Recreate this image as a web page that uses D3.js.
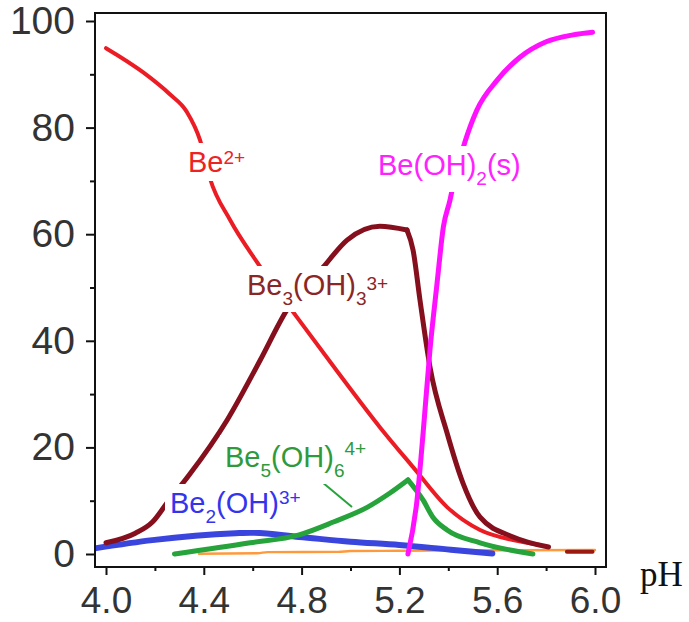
<!DOCTYPE html>
<html>
<head>
<meta charset="utf-8">
<script src="https://cdn.jsdelivr.net/npm/d3@7/dist/d3.min.js"></script>
<style>
  html, body { margin: 0; padding: 0; background: #fff; }
  svg { display: block; }
</style>
</head>
<body>
<svg id="chart" width="689" height="622"></svg>
<script>
// ---------- data (pH, % of total Be) ----------
const xTicks = [4.0, 4.4, 4.8, 5.2, 5.6, 6.0];
const xMinorTicks = [4.2, 4.6, 5.0, 5.4, 5.8];
const yTicks = [0, 20, 40, 60, 80, 100];
const yMinorTicks = [10, 30, 50, 70, 90];

const be2plus = [[4.0,94.9],[4.151,90.4],[4.26,86.3],[4.33,83.0],[4.385,77.6],[4.425,70.5],[4.507,62.7],[4.617,54.8],[4.78,44.5],[4.95,34.0],[5.12,23.8],[5.256,16.3],[5.395,8.8],[5.53,4.5],[5.665,2.6],[5.775,1.7]];
const be3Rise = [[4.0,2.1],[4.12,3.9],[4.19,6.0],[4.25,9.6],[4.34,14.8],[4.495,25.1],[4.63,36.3],[4.74,45.8],[4.888,53.8],[4.986,58.9],[5.12,61.5],[5.231,60.8]];
const be3Fall = [[5.231,60.8],[5.256,57.0],[5.284,47.7],[5.325,35.1],[5.395,22.7],[5.46,13.3],[5.53,6.9],[5.665,3.2],[5.81,1.3]];
const be3Tail = [[5.885,0.4],[5.99,0.4]];
const beOH2s = [[5.235,0.0],[5.272,10.1],[5.297,22.7],[5.325,38.3],[5.354,50.8],[5.38,61.4],[5.407,66.4],[5.42,69.2],[5.468,77.3],[5.517,83.3],[5.6,88.9],[5.693,93.2],[5.80,96.1],[5.91,97.4],[5.99,97.9]];
const be5Rise = [[4.28,0.0],[4.59,2.1],[4.79,3.6],[4.93,6.0],[5.07,8.8],[5.16,11.4],[5.235,13.9]];
const be5Fall = [[5.235,13.9],[5.297,10.1],[5.337,6.9],[5.395,4.5],[5.53,2.1],[5.746,0.0]];
const be2OH = [[3.96,1.1],[4.19,2.6],[4.53,3.9],[4.59,4.0],[4.79,3.2],[5.0,2.3],[5.2,1.7],[5.41,0.8],[5.58,0.1]];
const minor = [[4.38,0.05],[4.62,0.15],[4.66,0.35],[4.95,0.4],[5.0,0.55],[5.2,0.6],[5.6,0.7],[6.0,0.75]];

// ---------- layout ----------
const svg = d3.select("#chart");
const SANS = "'Liberation Sans', Arial, sans-serif";
const SERIF = "'Liberation Serif', 'Times New Roman', serif";
const box = {left: 95, top: 13, right: 606, bottom: 567};
const x = d3.scaleLinear().domain([4, 6]).range([106, 595]);
const y = d3.scaleLinear().domain([0, 100]).range([554, 21]);

svg.append("defs").append("clipPath").attr("id", "plotclip")
  .append("rect").attr("x", box.left).attr("y", box.top)
  .attr("width", box.right - box.left).attr("height", box.bottom - box.top);

// ---------- curves ----------
const line = d3.line().x(d => x(d[0])).y(d => y(d[1])).curve(d3.curveMonotoneX);
const g = svg.append("g").attr("clip-path", "url(#plotclip)");
const series = [
  {data: minor,   color: "#ff9a3c", w: 2.4},
  {data: be2OH,   color: "#3a45dd", w: 6},
  {data: be5Rise, color: "#26a33a", w: 5},
  {data: be5Fall, color: "#26a33a", w: 5},
  {data: be2plus, color: "#ec1c24", w: 4},
  {data: be3Rise, color: "#850f1c", w: 5},
  {data: be3Fall, color: "#850f1c", w: 5},
  {data: be3Tail, color: "#9a1a10", w: 4},
  {data: beOH2s,  color: "#ff10ff", w: 5}
];
series.forEach(s => {
  g.append("path").datum(s.data).attr("d", line)
    .attr("fill", "none").attr("stroke", s.color)
    .attr("stroke-width", s.w).attr("stroke-linecap", "round")
    .attr("stroke-linejoin", "round");
});

// pointer for Be5 label
g.append("line").attr("x1", 322).attr("y1", 482).attr("x2", 352).attr("y2", 507)
  .attr("stroke", "#26a33a").attr("stroke-width", 2);

// ---------- curve labels ----------
const labels = [
  {x: 188, y: 172, color: "#ee2222", parts: [["Be",0,29],["2+",-8,19]]},
  {x: 378, y: 175, color: "#ff22ff", parts: [["Be(OH)",0,29],["2",10,19],["(s)",-10,29]]},
  {x: 247, y: 295, color: "#8b2626", parts: [["Be",0,29],["3",10,19],["(OH)",-10,29],["3",10,19],["3+",-15,19]]},
  {x: 225, y: 467, color: "#2e9a3c", parts: [["Be",0,29],["5",10,19],["(OH)",-10,29],["6",10,19],["4+",-22,19]]},
  {x: 170, y: 513, color: "#3434ee", parts: [["Be",0,29],["2",10,19],["(OH)",-10,29],["3+",-9,19]]}
];
labels.forEach(L => {
  const lg = svg.append("g");
  const bg = lg.append("rect").attr("fill", "#fff");
  const t = lg.append("text").attr("x", L.x).attr("y", L.y).attr("fill", L.color)
    .style("font-family", SANS);
  L.parts.forEach(p => {
    t.append("tspan").attr("dy", p[1]).attr("font-size", p[2]).text(p[0]);
  });
  const bb = t.node().getBBox();
  const pad = 5;
  bg.attr("x", bb.x - pad).attr("y", bb.y - pad + 2)
    .attr("width", bb.width + 2 * pad).attr("height", bb.height + 2 * pad - 4);
});

// ---------- frame and axes ----------
svg.append("rect").attr("x", box.left).attr("y", box.top)
  .attr("width", box.right - box.left).attr("height", box.bottom - box.top)
  .attr("fill", "none").attr("stroke", "#111").attr("stroke-width", 2);

const yAxis = svg.append("g").attr("transform", `translate(${box.left},0)`)
  .call(d3.axisLeft(y).tickValues(yTicks).tickSize(9).tickPadding(11).tickFormat(d3.format("d")));
const yMinor = svg.append("g").attr("transform", `translate(${box.left},0)`)
  .call(d3.axisLeft(y).tickValues(yMinorTicks).tickSize(5).tickFormat(""));
const xAxis = svg.append("g").attr("transform", `translate(0,${box.bottom})`)
  .call(d3.axisBottom(x).tickValues(xTicks).tickSize(8).tickPadding(13).tickFormat(d3.format(".1f")));
const xMinor = svg.append("g").attr("transform", `translate(0,${box.bottom})`)
  .call(d3.axisBottom(x).tickValues(xMinorTicks).tickSize(4).tickFormat(""));

[yAxis, yMinor, xAxis, xMinor].forEach(a => {
  a.select(".domain").remove();
  a.selectAll(".tick line").attr("stroke", "#111").attr("stroke-width", 2);
  a.selectAll(".tick text").style("font-family", SANS).style("font-size", "39px").attr("fill", "#333");
});
// x tick labels: a bit smaller, baseline kept inside the page
xAxis.selectAll(".tick text").style("font-size", "37px").attr("dy", null).attr("y", 46);

svg.append("text").attr("x", 640).attr("y", 586)
  .style("font-family", SERIF).style("font-size", "35px").attr("fill", "#111").text("pH");
</script>
</body>
</html>
